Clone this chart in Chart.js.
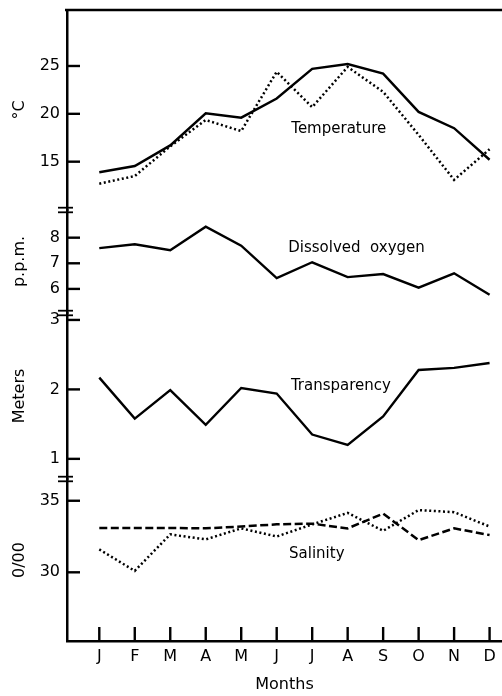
<!DOCTYPE html>
<html>
<head>
<meta charset="utf-8">
<script src="https://cdn.jsdelivr.net/npm/chart.js@4.4.0/dist/chart.umd.min.js"></script>
<style>
  html, body { margin: 0; padding: 0; background: #fff; }
  #wrap { width: 502px; height: 696px; position: relative; }
</style>
</head>
<body>
<div id="wrap"><canvas id="chart"></canvas></div>
<script>
// month axis
const MONTHS = ['J', 'F', 'M', 'A', 'M', 'J', 'J', 'A', 'S', 'O', 'N', 'D'];

// series
const TEMP_SOLID = [13.9, 14.55, 16.7, 20.05, 19.6, 21.6, 24.7, 25.2, 24.2, 20.2, 18.5, 15.2];
const TEMP_DOTTED = [12.7, 13.5, 16.6, 19.35, 18.2, 24.4, 20.7, 24.9, 22.3, 17.8, 13.1, 16.3];
const OXYGEN = [7.59, 7.74, 7.51, 8.43, 7.69, 6.42, 7.04, 6.46, 6.58, 6.05, 6.61, 5.77];
const TRANSPARENCY = [2.17, 1.58, 1.99, 1.49, 2.02, 1.94, 1.35, 1.2, 1.61, 2.28, 2.31, 2.38];
const SALINITY_DASHED = [33.1, 33.1, 33.1, 33.07, 33.2, 33.35, 33.4, 33.07, 34.1, 32.25, 33.07, 32.6];
const SALINITY_DOTTED = [31.6, 30.1, 32.65, 32.3, 33.07, 32.5, 33.35, 34.15, 32.9, 34.35, 34.2, 33.2];

// tick labels per panel
const TEMP_TICKS = [15, 20, 25];
const OXYGEN_TICKS = [6, 7, 8];
const TRANSPARENCY_TICKS = [1, 2, 3];
const SALINITY_TICKS = [30, 35];

const toPoints = arr => arr.map((v, i) => ({ x: i, y: v }));

Chart.defaults.font.family = "'DejaVu Sans', sans-serif";
Chart.defaults.color = '#000';

function fixedTicks(values) {
  return scale => { scale.ticks = values.map(v => ({ value: v })); };
}

function yAxis(ticks, min, max, title, stackWeight, weight) {
  return {
    type: 'linear',
    position: 'left',
    stack: 'panels',
    stackWeight: stackWeight,
    weight: weight,
    min: min,
    max: max,
    afterBuildTicks: fixedTicks(ticks),
    afterFit: scale => {
      scale.width = 67;
      scale.paddingTop = 0;
      scale.paddingBottom = 0;
    },
    grid: { display: false, drawTicks: false },
    border: { display: true, color: '#000', width: 2.5 },
    ticks: { font: { size: 16 }, padding: 7 },
    title: { display: true, text: title, font: { size: 16 }, padding: { top: 10, bottom: 0 } }
  };
}

// inward tick marks, axis breaks, top rule and panel captions
const decorations = {
  id: 'decorations',
  afterDraw(chart) {
    const { ctx, chartArea, scales } = chart;
    ctx.save();
    ctx.strokeStyle = '#000';
    ctx.lineWidth = 2.4;

    // top rule
    ctx.beginPath();
    ctx.moveTo(chartArea.left - 2, chartArea.top);
    ctx.lineTo(chartArea.right, chartArea.top);
    ctx.stroke();

    // y ticks pointing inward
    ['yTemp', 'yOxy', 'yTrans', 'ySal'].forEach(id => {
      const s = scales[id];
      s.ticks.forEach(t => {
        const y = s.getPixelForValue(t.value);
        ctx.beginPath();
        ctx.moveTo(chartArea.left, y);
        ctx.lineTo(chartArea.left + 13, y);
        ctx.stroke();
      });
    });

    // x ticks pointing up
    const xs = scales.x;
    xs.ticks.forEach(t => {
      const x = xs.getPixelForValue(t.value);
      ctx.beginPath();
      ctx.moveTo(x, chartArea.bottom);
      ctx.lineTo(x, chartArea.bottom - 14);
      ctx.stroke();
    });

    // axis breaks
    ctx.lineWidth = 1.8;
    ['yOxy', 'yTrans', 'ySal'].forEach(id => {
      const y = scales[id].top;
      [-2.3, 2.3].forEach(d => {
        ctx.beginPath();
        ctx.moveTo(chartArea.left - 9, y + d);
        ctx.lineTo(chartArea.left + 6, y + d);
        ctx.stroke();
      });
    });

    // panel captions
    ctx.font = "15px 'DejaVu Sans'";
    ctx.fillStyle = '#000';
    ctx.textAlign = 'center';
    ctx.textBaseline = 'middle';
    const captions = [
      ['Temperature', 6.75, 'yTemp', 18.4],
      ['Dissolved  oxygen', 7.25, 'yOxy', 7.6],
      ['Transparency', 6.81, 'yTrans', 2.05],
      ['Salinity', 6.13, 'ySal', 31.27]
    ];
    captions.forEach(([text, xv, id, yv]) => {
      ctx.fillText(text, xs.getPixelForValue(xv), scales[id].getPixelForValue(yv));
    });
    ctx.restore();
  }
};

const solid = { borderColor: '#000', borderWidth: 2.4, pointRadius: 0, tension: 0, fill: false };
const dotted = { borderColor: '#000', borderWidth: 2.5, borderDash: [2, 2.6], pointRadius: 0, tension: 0, fill: false };
const dashed = { borderColor: '#000', borderWidth: 2.5, borderDash: [8, 3.5], pointRadius: 0, tension: 0, fill: false };

new Chart(document.getElementById('chart'), {
  type: 'line',
  data: {
    datasets: [
      { label: 'Temperature', data: toPoints(TEMP_SOLID), yAxisID: 'yTemp', ...solid },
      { label: 'Temperature (dotted)', data: toPoints(TEMP_DOTTED), yAxisID: 'yTemp', ...dotted },
      { label: 'Dissolved oxygen', data: toPoints(OXYGEN), yAxisID: 'yOxy', ...solid },
      { label: 'Transparency', data: toPoints(TRANSPARENCY), yAxisID: 'yTrans', ...solid },
      { label: 'Salinity (dashed)', data: toPoints(SALINITY_DASHED), yAxisID: 'ySal', ...dashed },
      { label: 'Salinity (dotted)', data: toPoints(SALINITY_DOTTED), yAxisID: 'ySal', ...dotted }
    ]
  },
  options: {
    responsive: true,
    maintainAspectRatio: false,
    animation: false,
    layout: { padding: { top: 10, left: 0, right: 0, bottom: 0 } },
    plugins: { legend: { display: false }, tooltip: { enabled: false } },
    scales: {
      x: {
        type: 'linear',
        min: -0.91,
        max: 11.35,
        afterBuildTicks: scale => { scale.ticks = MONTHS.map((m, i) => ({ value: i })); },
        afterFit: scale => {
          scale.height = 55;
          scale.paddingLeft = 0;
          scale.paddingRight = 0;
        },
        grid: { display: false, drawTicks: false },
        border: { display: true, color: '#000', width: 2.5 },
        ticks: { font: { size: 16 }, padding: 6, maxRotation: 0, callback: v => MONTHS[v] },
        title: { display: true, text: 'Months', font: { size: 16 }, padding: { top: 0, bottom: 2 } }
      },
      yTemp: yAxis(TEMP_TICKS, 9.95, 30.85, '°C', 200, 4),
      yOxy: yAxis(OXYGEN_TICKS, 5.06, 9.08, 'p.p.m.', 103, 3),
      yTrans: yAxis(TRANSPARENCY_TICKS, 0.71, 3.1, 'Meters', 166, 2),
      ySal: yAxis(SALINITY_TICKS, 25.2, 36.52, '0/00', 162, 1)
    }
  },
  plugins: [decorations]
});
</script>
</body>
</html>
